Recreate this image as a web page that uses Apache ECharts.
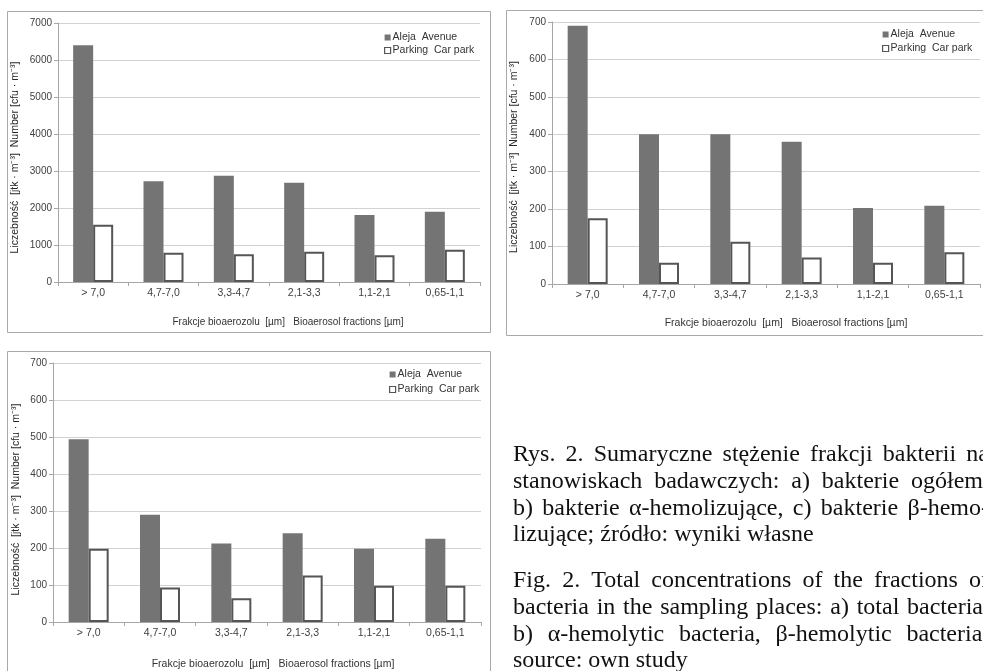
<!DOCTYPE html>
<html><head><meta charset="utf-8">
<script src="https://cdn.jsdelivr.net/npm/echarts@6/dist/echarts.min.js"></script>
<style>html,body{margin:0;padding:0;background:#fff}#c{width:983px;height:671px}</style>
</head><body><div id="c"></div>
<script>
// ---- data ----
const categories = ['> 7,0', '4,7-7,0', '3,3-4,7', '2,1-3,3', '1,1-2,1', '0,65-1,1'];
const seriesNames = ['Aleja  Avenue', 'Parking  Car park'];
// a) total bacteria
const alejaA = [6400, 2720, 2870, 2680, 1810, 1900];
const parkingA = [1550, 790, 750, 820, 720, 870];
// b) alpha-hemolytic
const alejaB = [690, 400, 400, 380, 203, 209];
const parkingB = [176, 57, 113, 71, 57, 85];
// c) beta-hemolytic
const alejaC = [494, 290, 212, 240, 198, 225];
const parkingC = [198, 93, 64, 126, 98, 98];
const yMaxA = 7000, yStepA = 1000;
const yMaxBC = 700, yStepBC = 100;
const yAxisName = 'Liczebność  [jtk · m⁻³]  Number [cfu · m⁻³]';
const xAxisName = 'Frakcje bioaerozolu  [µm]   Bioaerosol fractions [µm]';
const captionPL = [
  'Rys. 2. Sumaryczne stężenie frakcji bakterii na',
  'stanowiskach badawczych: a) bakterie ogółem,',
  'b) bakterie α-hemolizujące, c) bakterie β-hemo-',
  'lizujące; źródło: wyniki własne'
];
const captionEN = [
  'Fig. 2. Total concentrations of the fractions of',
  'bacteria in the sampling places: a) total bacteria,',
  'b) α-hemolytic bacteria, β-hemolytic bacteria;',
  'source: own study'
];

// ---- styles ----
const DARK = '#747474';
const AXIS = '#a6a6a6';
const GRIDC = '#d2d2d2';
const TXT = '#404040';

const grids = [
  {left: 58, top: 23, width: 422, height: 259},
  {left: 552, top: 22, width: 428, height: 262},
  {left: 53, top: 363, width: 428, height: 259}
];
const xNameCfg = [
  {gap: 35, padL: 38, size: 10},
  {gap: 34, padL: 40, size: 10.5},
  {gap: 37, padL: 12, size: 10.5}
];
const yNameCfg = [
  {gap: 37, padR: 10},
  {gap: 32, padR: 8},
  {gap: 31, padR: 14}
];
const legendPos = [
  {left: 379, top: 27, gap: 2},
  {left: 877, top: 24, gap: 3},
  {left: 384, top: 364, gap: 4}
];

const xAxes = grids.map((g, i) => ({
  type: 'category', gridIndex: i, data: categories,
  axisLine: {lineStyle: {color: AXIS, width: 1}},
  axisTick: {show: true, length: 4, lineStyle: {color: AXIS}},
  axisLabel: {color: TXT, fontSize: 10.5, margin: 6, fontFamily: 'Liberation Sans, Arial'},
  name: xAxisName, nameLocation: 'middle', nameGap: xNameCfg[i].gap,
  nameTextStyle: {color: '#333', fontSize: xNameCfg[i].size, fontFamily: 'Liberation Sans, Arial', padding: [0, 0, 0, xNameCfg[i].padL]}
}));
const yAxes = grids.map((g, i) => ({
  type: 'value', gridIndex: i, min: 0,
  max: i === 0 ? yMaxA : yMaxBC, interval: i === 0 ? yStepA : yStepBC,
  axisLine: {show: true, lineStyle: {color: AXIS, width: 1}},
  axisTick: {show: true, length: 4, lineStyle: {color: AXIS}},
  splitLine: {show: true, lineStyle: {color: GRIDC, width: 1}},
  axisLabel: {color: TXT, fontSize: 10, margin: 6, fontFamily: 'Liberation Sans, Arial', formatter: v => String(v)},
  name: yAxisName, nameLocation: 'middle', nameGap: yNameCfg[i].gap,
  nameTextStyle: {color: '#262626', fontSize: 10.5, fontFamily: 'Liberation Sans, Arial', padding: [0, yNameCfg[i].padR, 0, 0]}
}));

function pair(i, a, p) {
  return [
    {name: seriesNames[0], type: 'bar', xAxisIndex: i, yAxisIndex: i, data: a,
     barWidth: 20, barGap: '0%', itemStyle: {color: DARK}},
    {name: seriesNames[1], type: 'bar', xAxisIndex: i, yAxisIndex: i, data: p,
     barWidth: 20, barGap: '0%', itemStyle: {color: '#ffffff', borderColor: '#555555', borderWidth: 2}}
  ];
}
const series = [].concat(pair(0, alejaA, parkingA), pair(1, alejaB, parkingB), pair(2, alejaC, parkingC));

const legends = legendPos.map(l => ({
  orient: 'vertical', left: l.left, top: l.top, itemGap: l.gap,
  itemWidth: 6, itemHeight: 6, icon: 'rect', selectedMode: false,
  data: [{name: seriesNames[0]}, {name: seriesNames[1], itemStyle: {borderWidth: 1.2}}],
  textStyle: {color: '#333', fontSize: 10.5, fontFamily: 'Liberation Sans, Arial', padding: [0, 0, 0, -3]}
}));

// ---- frames and caption ----
const graphic = [
  {type: 'rect', shape: {x: 7.5, y: 11.5, width: 483, height: 321}, style: {fill: 'none', stroke: '#a9a9a9', lineWidth: 1}, silent: true},
  {type: 'rect', shape: {x: 506.5, y: 10.5, width: 500, height: 325}, style: {fill: 'none', stroke: '#a9a9a9', lineWidth: 1}, silent: true},
  {type: 'rect', shape: {x: 7.5, y: 351.5, width: 483, height: 340}, style: {fill: 'none', stroke: '#a9a9a9', lineWidth: 1}, silent: true}
];
const CAP_FONT = '24px "Liberation Serif"';
const ctx = document.createElement('canvas').getContext('2d');
ctx.font = CAP_FONT;
function addParagraph(lines, x0, y0, width, lh) {
  lines.forEach((line, li) => {
    const y = y0 + li * lh;
    const words = line.split(' ');
    const last = li === lines.length - 1;
    const widths = words.map(w => ctx.measureText(w).width);
    const sum = widths.reduce((s, v) => s + v, 0);
    const gap = (last || words.length < 2) ? ctx.measureText(' ').width : (width - sum) / (words.length - 1);
    let x = x0;
    words.forEach((w, wi) => {
      graphic.push({type: 'text', x: x, y: y, silent: true,
        style: {text: w, font: CAP_FONT, fill: '#111111', align: 'left', verticalAlign: 'middle'}});
      x += widths[wi] + gap;
    });
  });
}
addParagraph(captionPL, 513, 455, 476, 26.7);
addParagraph(captionEN, 513, 581, 476, 26.7);

const chart = echarts.init(document.getElementById('c'), null, {renderer: 'canvas'});
chart.setOption({
  backgroundColor: '#ffffff',
  animation: false,
  grid: grids,
  xAxis: xAxes,
  yAxis: yAxes,
  legend: legends,
  series: series,
  graphic: graphic
});
</script>
</body></html>
